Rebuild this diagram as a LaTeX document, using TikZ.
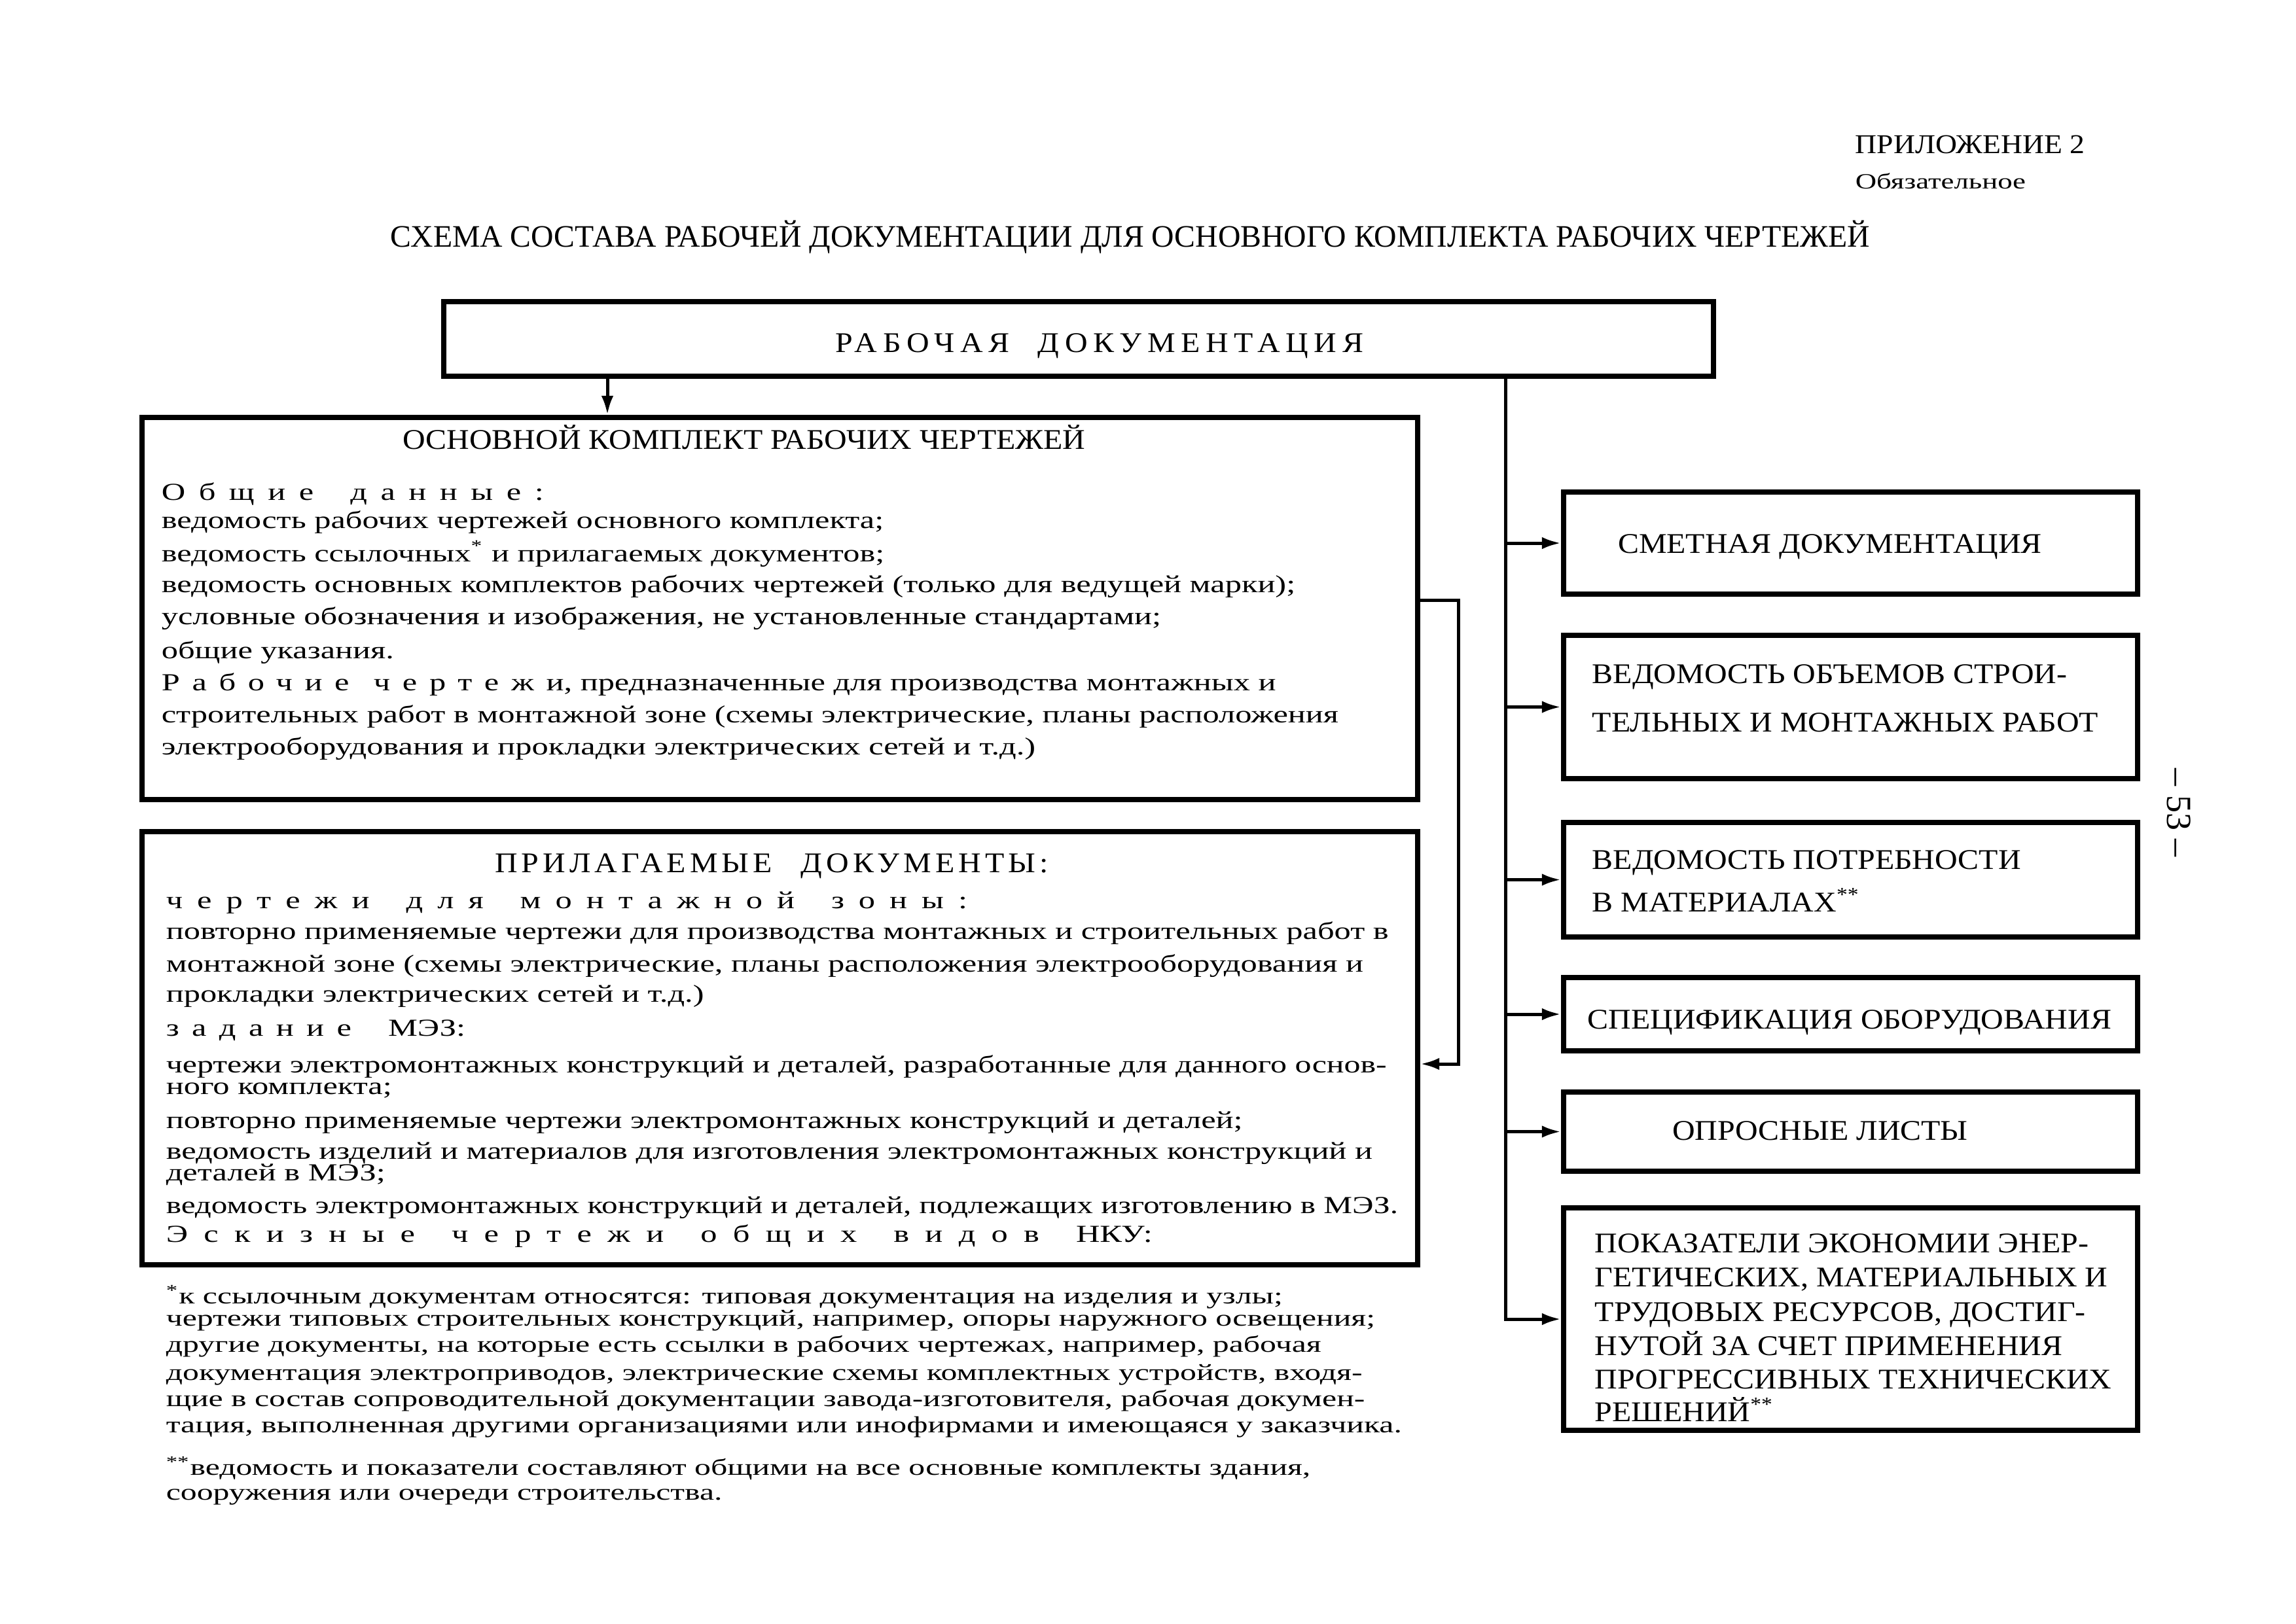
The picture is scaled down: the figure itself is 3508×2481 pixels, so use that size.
\documentclass[tikz,border=0pt]{standalone}
\usepackage{fontspec}
\usepackage{graphicx}
\setmainfont{Liberation Serif}
\newfontfamily\wide[FakeStretch=1.35]{Liberation Serif}
\newfontfamily\widef[FakeStretch=1.41]{Liberation Serif}
\newfontfamily\capw[FakeStretch=1.1]{Liberation Serif}
\usetikzlibrary{fit,arrows.meta}
\newcommand\lsp[2]{{\addfontfeatures{LetterSpace=#1}#2}}
\newcommand\wgap{\quad\enspace}
\begin{document}
\begin{tikzpicture}[x=0.0084667cm,y=-0.0084667cm,
  box/.style={draw,line width=2pt,inner sep=0pt},
  conn/.style={line width=1.2pt},
  arr/.style={-{Latex[length=7pt,width=4.5pt]}},
  body/.style={anchor=west,inner sep=0pt,text height=6pt,text depth=2pt,font=\wide\fontsize{9}{11}\selectfont},
  foot/.style={anchor=west,inner sep=0pt,text height=6pt,text depth=2pt,font=\widef\fontsize{8.5}{10}\selectfont},
  caps/.style={inner sep=0pt,text height=7.5pt,text depth=0pt,font=\capw\fontsize{10.5}{12}\selectfont},
  capl/.style={caps,anchor=west}]
\path[use as bounding box] (0,0) rectangle (3508,2481);

% header
\node[capl,font=\capw\fontsize{10}{12}\selectfont] (app) at (2834,219) {ПРИЛОЖЕНИЕ 2};
\node[body,font=\wide\fontsize{8}{10}\selectfont] (obl) at (2834,280) {Обязательное};
\node[caps,font=\fontsize{11.5}{13}\selectfont] (title) at (1727,362) {СХЕМА СОСТАВА РАБОЧЕЙ ДОКУМЕНТАЦИИ ДЛЯ ОСНОВНОГО КОМПЛЕКТА РАБОЧИХ ЧЕРТЕЖЕЙ};
\node[caps,rotate=-90,font=\fontsize{13}{15}\selectfont] (page) at (3327,1242) {– 53 –};

% boxes
\node[box,fit={(678,461)(2618,575)}] (top) {};
\node[caps] (toptxt) at (1680,523) {\lsp{20}{РАБОЧАЯ}\quad\lsp{20}{ДОКУМЕНТАЦИЯ}};

\node[box,fit={(217,638)(2166,1222)}] (b1) {};
\node[box,fit={(217,1271)(2166,1933)}] (b2) {};

\node[box,fit={(2389,752)(3266,908)}] (r1) {};
\node[box,fit={(2389,971)(3266,1190)}] (r2) {};
\node[box,fit={(2389,1257)(3266,1432)}] (r3) {};
\node[box,fit={(2389,1494)(3266,1606)}] (r4) {};
\node[box,fit={(2389,1669)(3266,1790)}] (r5) {};
\node[box,fit={(2389,1846)(3266,2186)}] (r6) {};

% right box texts
\node[caps] (r1t) at (2796,830) {СМЕТНАЯ ДОКУМЕНТАЦИЯ};
\node[capl] (r2a) at (2432,1029) {ВЕДОМОСТЬ ОБЪЕМОВ СТРОИ-};
\node[capl] (r2b) at (2432,1103) {ТЕЛЬНЫХ И МОНТАЖНЫХ РАБОТ};
\node[capl] (r3a) at (2432,1313) {ВЕДОМОСТЬ ПОТРЕБНОСТИ};
\node[capl] (r3b) at (2432,1378) {В МАТЕРИАЛАХ\textsuperscript{**}};
\node[caps] (r4t) at (2826,1557) {СПЕЦИФИКАЦИЯ ОБОРУДОВАНИЯ};
\node[caps] (r5t) at (2781,1727) {ОПРОСНЫЕ ЛИСТЫ};
\node[capl] (r6a) at (2436,1899) {ПОКАЗАТЕЛИ ЭКОНОМИИ ЭНЕР-};
\node[capl] (r6b) at (2436,1951) {ГЕТИЧЕСКИХ, МАТЕРИАЛЬНЫХ И};
\node[capl] (r6c) at (2436,2004) {ТРУДОВЫХ РЕСУРСОВ, ДОСТИГ-};
\node[capl] (r6d) at (2436,2056) {НУТОЙ ЗА СЧЕТ ПРИМЕНЕНИЯ};
\node[capl] (r6e) at (2436,2107) {ПРОГРЕССИВНЫХ ТЕХНИЧЕСКИХ};
\node[capl] (r6f) at (2436,2157) {РЕШЕНИЙ\textsuperscript{**}};

% box 1 text
\node[caps] (b1h) at (1137,671) {ОСНОВНОЙ КОМПЛЕКТ РАБОЧИХ ЧЕРТЕЖЕЙ};
\node[body] (b1l1) at (246,756) {\lsp{55}{Общие}\wgap\lsp{55}{данные:}};
\node[body] (b1l2) at (246,799) {ведомость рабочих чертежей основного комплекта;};
\node[body] (b1l3) at (246,850) {ведомость ссылочных\textsuperscript{*} и прилагаемых документов;};
\node[body] (b1l4) at (246,897) {ведомость основных комплектов рабочих чертежей (только для ведущей марки);};
\node[body] (b1l5) at (246,946) {условные обозначения и изображения, не установленные стандартами;};
\node[body] (b1l6) at (246,998) {общие указания.};
\node[body] (b1l7) at (246,1047) {\lsp{50}{Рабочие}\quad\lsp{50}{чертежи}, предназначенные для производства монтажных и};
\node[body] (b1l8) at (246,1096) {строительных работ в монтажной зоне (схемы электрические, планы расположения};
\node[body] (b1l9) at (246,1145) {электрооборудования и прокладки электрических сетей и т.д.)};

% box 2 text
\node[caps] (b2h) at (1179,1318) {\lsp{14}{ПРИЛАГАЕМЫЕ}\quad\lsp{14}{ДОКУМЕНТЫ:}};
\node[body] (b2l1) at (253,1380) {\lsp{59}{чертежи}\wgap\lsp{59}{для}\wgap\lsp{59}{монтажной}\wgap\lsp{59}{зоны:}};
\node[body] (b2l2) at (253,1427) {повторно применяемые чертежи для производства монтажных и строительных работ в};
\node[body] (b2l3) at (253,1477) {монтажной зоне (схемы электрические, планы расположения электрооборудования и};
\node[body] (b2l4) at (253,1523) {прокладки электрических сетей и т.д.)};
\node[body] (b2l5) at (253,1575) {\lsp{52}{задание}\wgap МЭЗ:};
\node[body] (b2l6) at (253,1631) {\scalebox{0.99}[1]{чертежи электромонтажных конструкций и деталей, разработанные для данного основ-}};
\node[body] (b2l7) at (253,1664) {ного комплекта;};
\node[body] (b2l8) at (253,1716) {повторно применяемые чертежи электромонтажных конструкций и деталей;};
\node[body] (b2l9) at (253,1763) {ведомость изделий и материалов для изготовления электромонтажных конструкций и};
\node[body] (b2l10) at (253,1796) {деталей в МЭЗ;};
\node[body] (b2l11) at (253,1846) {\scalebox{0.975}[1]{ведомость электромонтажных конструкций и деталей, подлежащих изготовлению в МЭЗ.}};
\node[body] (b2l12) at (253,1890) {\lsp{65}{Эскизные}\wgap\lsp{65}{чертежи}\wgap\lsp{65}{общих}\wgap\lsp{65}{видов}\wgap НКУ:};

% footnotes
\node[foot] (f1) at (253,1984) {\textsuperscript{*}к ссылочным документам относятся: типовая документация на изделия и узлы;};
\node[foot] (f2) at (253,2018) {чертежи типовых строительных конструкций, например, опоры наружного освещения;};
\node[foot] (f3) at (253,2058) {другие документы, на которые есть ссылки в рабочих чертежах, например, рабочая};
\node[foot] (f4) at (253,2101) {документация электроприводов, электрические схемы комплектных устройств, входя-};
\node[foot] (f5) at (253,2141) {щие в состав сопроводительной документации завода-изготовителя, рабочая докумен-};
\node[foot] (f6) at (253,2181) {тация, выполненная другими организациями или инофирмами и имеющаяся у заказчика.};
\node[foot] (f7) at (253,2246) {\textsuperscript{**}ведомость и показатели составляют общими на все основные комплекты здания,};
\node[foot] (f8) at (253,2284) {сооружения или очереди строительства.};

% connectors
\coordinate (tx) at (2300,0);
\coordinate (ax) at (928,0);
\coordinate (bt) at (2228,917);
\coordinate (bb) at (2228,1626);
\draw[conn,arr] (top.south -| ax) -- (b1.north -| ax);
\draw[conn,arr] (top.south -| tx) |- (r6.west);
\foreach \r in {r1,r2,r3,r4,r5} \draw[conn,arr] (tx |- \r.west) -- (\r.west);
\draw[conn,arr] (b1.east |- bt) -- (bt) -- (bb) -- (b2.east |- bb);
\end{tikzpicture}
\end{document}
